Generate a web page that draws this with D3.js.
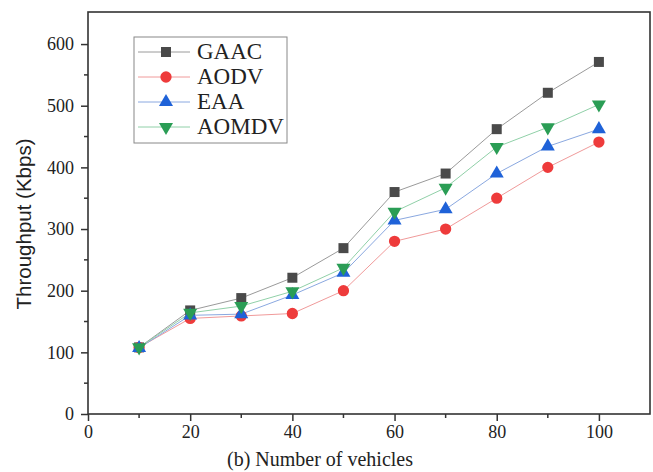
<!DOCTYPE html>
<html>
<head>
<meta charset="utf-8">
<script src="https://cdn.jsdelivr.net/npm/d3@7"></script>
<style>
  body { margin: 0; background: #fff; }
  svg text { font-family: "Liberation Serif", "Times New Roman", serif; fill: #222; }
</style>
</head>
<body>
<div class="chart"></div>
<script>
var vehicles = [10, 20, 30, 40, 50, 60, 70, 80, 90, 100];
var gaac  = [108, 168, 188, 221, 269, 360, 390, 462, 521, 571];
var aodv  = [108, 155, 159, 163, 200, 280, 300, 350, 400, 441];
var eaa   = [107, 160, 162, 193, 229, 314, 332, 390, 434, 462];
var aomdv = [108, 164, 175, 199, 237, 328, 367, 433, 465, 502];
var xTicks = [0, 20, 40, 60, 80, 100];
var yTicks = [0, 100, 200, 300, 400, 500, 600];

var series = [
  {name: "GAAC",  values: gaac,  shape: "square",   fill: "#4a4a4a", line: "#9a9a9a"},
  {name: "AODV",  values: aodv,  shape: "circle",   fill: "#ee3b3b", line: "#f09a9a"},
  {name: "EAA",   values: eaa,   shape: "triangle", fill: "#1f62d8", line: "#8aa8e0"},
  {name: "AOMDV", values: aomdv, shape: "down",     fill: "#2a9d55", line: "#90d0a8"}
];

var w = 653, h = 472;
var pLeft = 88, pRight = 650, pTop = 12, pBottom = 414;

var svg = d3.select(".chart").append("svg")
    .attr("width", w)
    .attr("height", h);

var x = d3.scaleLinear().domain([0, 110]).range([pLeft, pRight]);
var y = d3.scaleLinear().domain([0, 652]).range([pBottom, pTop]);

// frame
svg.append("rect")
    .attr("x", pLeft).attr("y", pTop)
    .attr("width", pRight - pLeft).attr("height", pBottom - pTop)
    .attr("fill", "none").attr("stroke", "#333").attr("stroke-width", 1.6);

// minor ticks
svg.append("g").selectAll("line")
    .data(d3.range(10, 110, 20))
    .join("line")
    .attr("x1", d => x(d)).attr("x2", d => x(d))
    .attr("y1", pBottom).attr("y2", pBottom + 4)
    .attr("stroke", "#333").attr("stroke-width", 1.5);
svg.append("g").selectAll("line")
    .data(d3.range(50, 650, 100))
    .join("line")
    .attr("x1", pLeft).attr("x2", pLeft - 4)
    .attr("y1", d => y(d)).attr("y2", d => y(d))
    .attr("stroke", "#333").attr("stroke-width", 1.5);

var xAxis = svg.append("g")
    .attr("transform", "translate(0," + pBottom + ")")
    .call(d3.axisBottom(x).tickValues(xTicks).tickSize(7).tickPadding(4));
var yAxis = svg.append("g")
    .attr("transform", "translate(" + pLeft + ",0)")
    .call(d3.axisLeft(y).tickValues(yTicks).tickSize(7).tickPadding(7));

[xAxis, yAxis].forEach(function (a) {
    a.select(".domain").remove();
    a.selectAll("line").attr("stroke", "#333").attr("stroke-width", 1.5);
    a.selectAll("text").attr("font-size", 18).attr("fill", "#222");
});

svg.append("text")
    .attr("x", 320).attr("y", 466)
    .attr("text-anchor", "middle")
    .attr("font-size", 20)
    .text("(b) Number of vehicles");

svg.append("text")
    .attr("transform", "translate(31,224) rotate(-90)")
    .attr("text-anchor", "middle")
    .style("font-family", "'Liberation Sans', Arial, sans-serif")
    .attr("font-size", 20.5)
    .text("Throughput (Kbps)");

function symbolFor(shape) {
    if (shape === "square") return d3.symbol(d3.symbolSquare, 100);
    if (shape === "circle") return d3.symbol(d3.symbolCircle, 100);
    return d3.symbol(d3.symbolTriangle, 85);
}
function rot(shape) { return shape === "down" ? " rotate(180)" : ""; }

var line = d3.line()
    .x((d, i) => x(vehicles[i]))
    .y(d => y(d));

series.forEach(function (s) {
    svg.append("path")
        .attr("d", line(s.values))
        .attr("fill", "none")
        .attr("stroke", s.line)
        .attr("stroke-width", 1);
});
series.forEach(function (s) {
    svg.append("g").selectAll("path")
        .data(s.values)
        .join("path")
        .attr("d", symbolFor(s.shape))
        .attr("transform", (d, i) => "translate(" + x(vehicles[i]) + "," + y(d) + ")" + rot(s.shape))
        .attr("fill", s.fill);
});

// legend
var legend = svg.append("g");
legend.append("rect")
    .attr("x", 134).attr("y", 37)
    .attr("width", 153).attr("height", 106)
    .attr("fill", "#fff").attr("stroke", "#888").attr("stroke-width", 1);

series.forEach(function (s, i) {
    var ly = 52 + i * 25;
    legend.append("line")
        .attr("x1", 138).attr("x2", 190)
        .attr("y1", ly).attr("y2", ly)
        .attr("stroke", s.line).attr("stroke-width", 1);
    legend.append("path")
        .attr("d", symbolFor(s.shape))
        .attr("transform", "translate(166," + ly + ")" + rot(s.shape))
        .attr("fill", s.fill);
    legend.append("text")
        .attr("x", 197).attr("y", ly + 7)
        .attr("font-size", 23)
        .text(s.name);
});
</script>
</body>
</html>
